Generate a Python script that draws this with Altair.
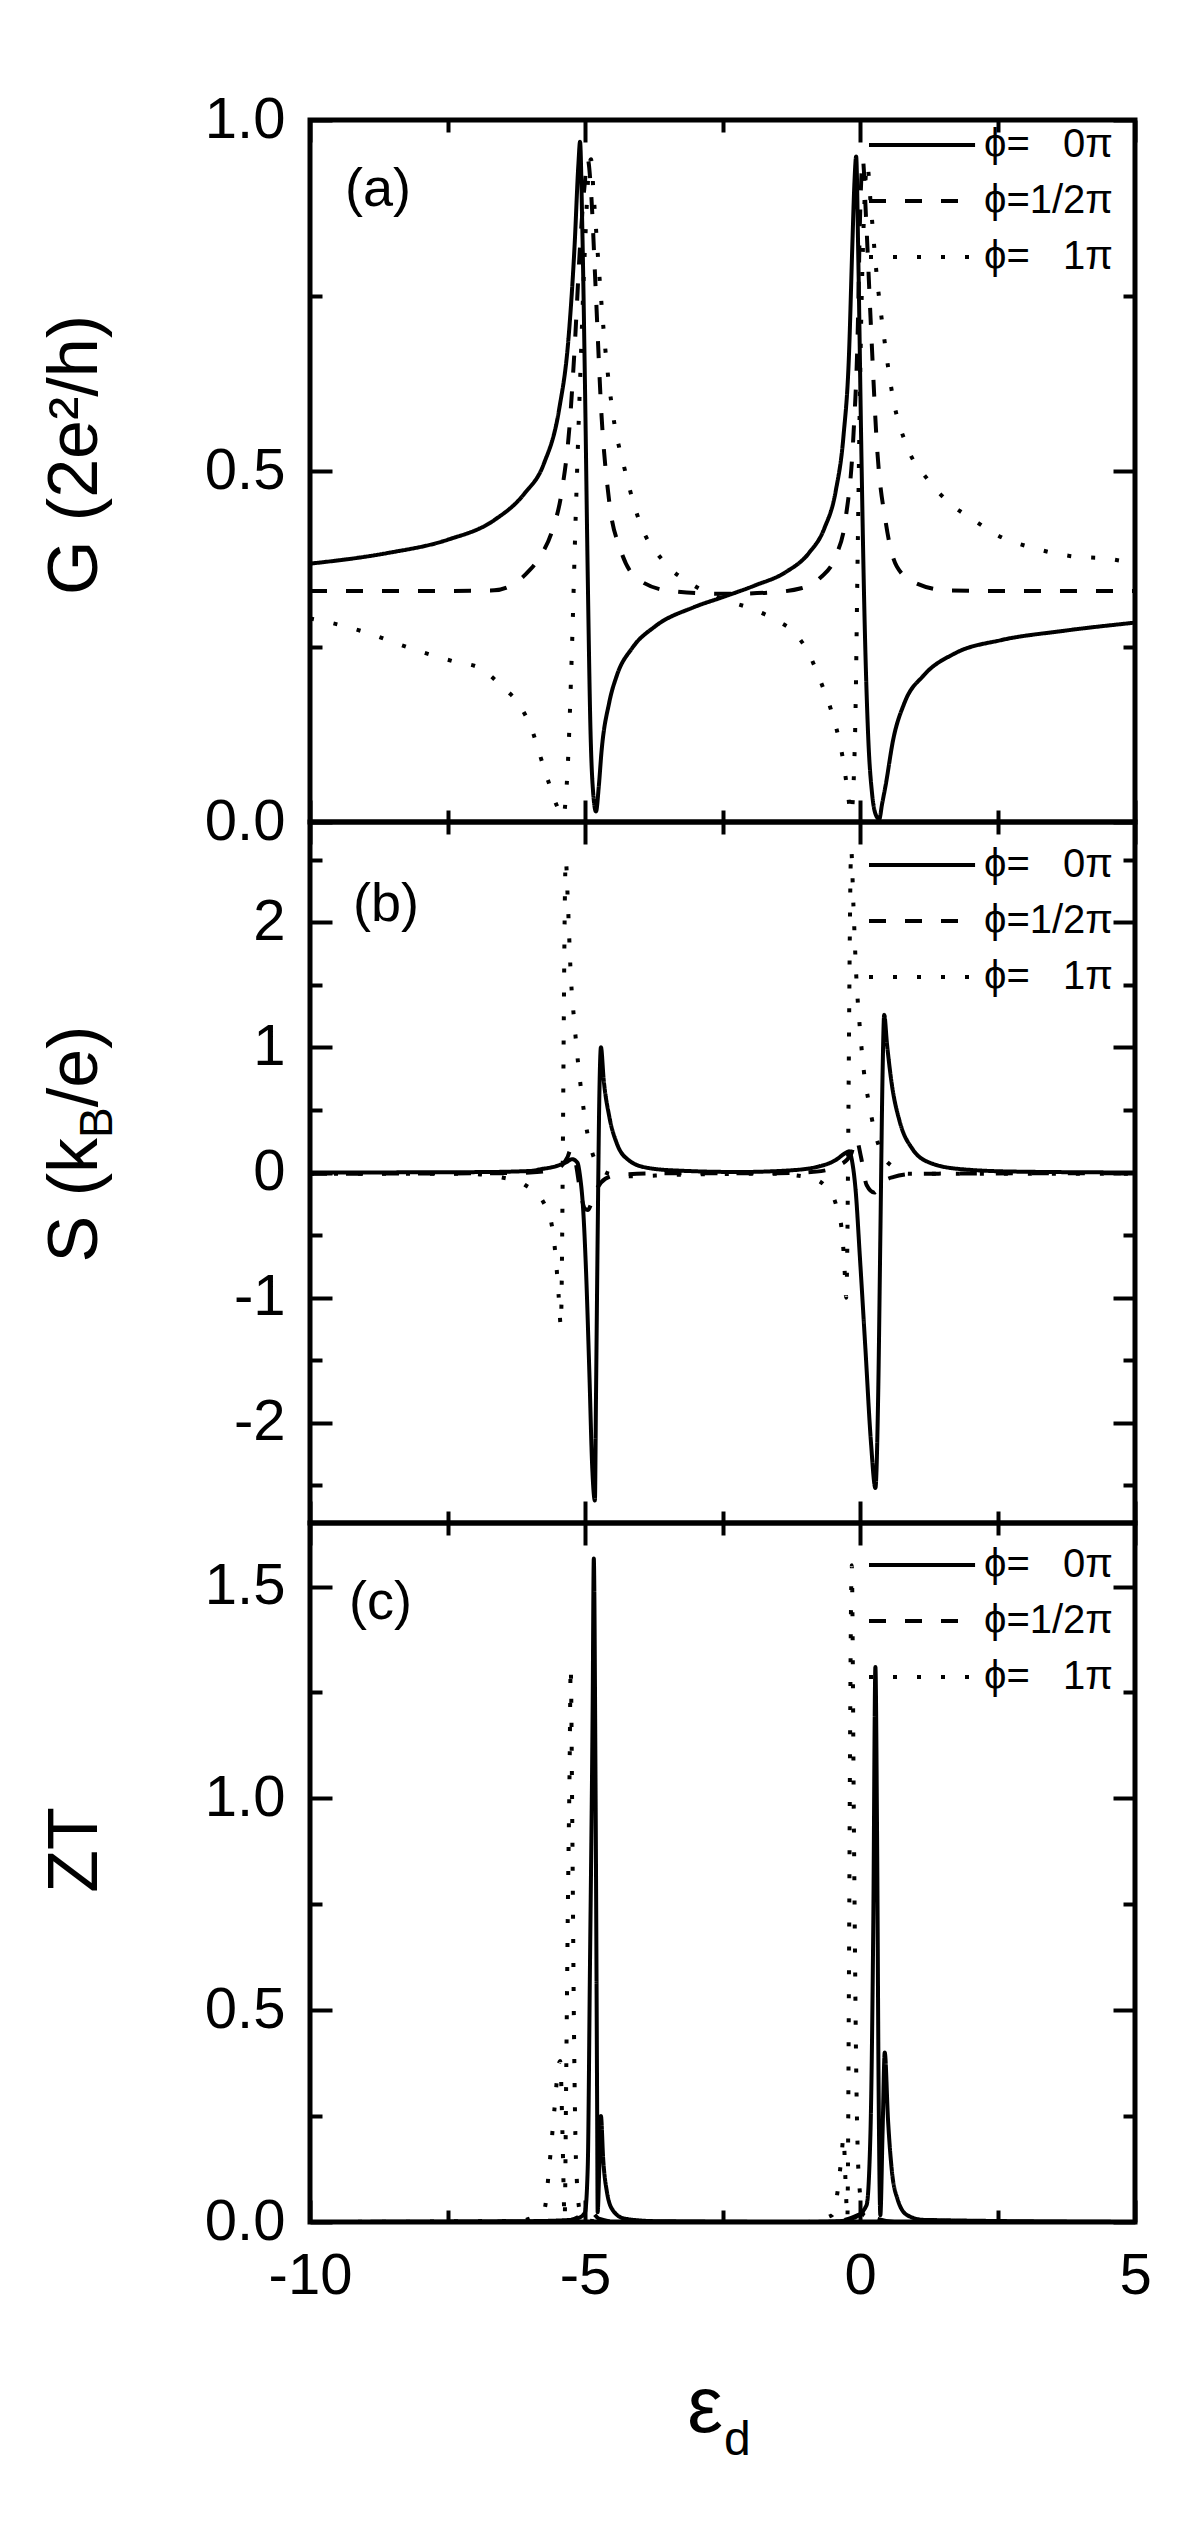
import altair as alt
import pandas as pd

FONT = "Liberation Sans"
PHI = ["ϕ=\u00a0\u00a0\u00a00π", "ϕ=1/2π", "ϕ=\u00a0\u00a0\u00a01π"]
DASHES = [[1, 0], [17, 19], [4, 20]]

# ---------------- panel (a): G (2e^2/h) ----------------
a0_x = [-10, -8.6, -7.5, -6.65, -6.1, -5.75, -5.47, -5.30, -5.19, -5.12, -5.09, -5.05, -5.0, -4.95,
        -4.90, -4.85, -4.80, -4.75, -4.70, -4.56, -4.42, -4.14, -3.72, -3.02, -2.47, -1.91, -1.35,
        -0.93, -0.65, -0.44, -0.30, -0.20, -0.14, -0.10, -0.07, -0.03, 0.02, 0.08, 0.15, 0.22, 0.30,
        0.35, 0.40, 0.47, 0.60, 0.81, 1.16, 1.72, 2.56, 3.67, 5.0]
a0_y = [0.368, 0.383, 0.402, 0.430, 0.468, 0.510, 0.588, 0.689, 0.820, 0.937, 0.969, 0.85, 0.62, 0.35,
        0.13, 0.04, 0.015, 0.05, 0.10, 0.17, 0.209, 0.248, 0.279, 0.306, 0.321, 0.337, 0.356,
        0.383, 0.418, 0.472, 0.55, 0.666, 0.82, 0.913, 0.948, 0.80, 0.55, 0.30, 0.12, 0.04, 0.008,
        0.004, 0.025, 0.054, 0.116, 0.170, 0.209, 0.240, 0.259, 0.272, 0.284]

a1_x = [-10, -8, -6.65, -6.09, -5.81, -5.60, -5.42, -5.28, -5.19, -5.09, -5.0, -4.95, -4.89, -4.81,
        -4.70, -4.56, -4.35, -4.0, -3.44, -2.47, -1.63, -1.07, -0.72, -0.44, -0.26, -0.12, -0.04,
        0.0, 0.05, 0.11, 0.20, 0.31, 0.47, 0.67, 1.02, 1.58, 2.56, 5.0]
a1_y = [0.329, 0.329, 0.330, 0.352, 0.379, 0.414, 0.472, 0.565, 0.673, 0.82, 0.913, 0.944, 0.898, 0.766,
        0.58, 0.457, 0.387, 0.344, 0.329, 0.325, 0.327, 0.333, 0.348, 0.379, 0.433, 0.55, 0.704,
        0.859, 0.944, 0.86, 0.704, 0.534, 0.426, 0.364, 0.34, 0.33, 0.329, 0.329]

a2_x = [-10, -9.58, -9.02, -8.19, -7.35, -6.93, -6.51, -6.16, -5.95, -5.81, -5.65, -5.51, -5.40, -5.31,
        -5.24, -5.17, -5.09, -5.0, -4.93, -4.89, -4.84, -4.75, -4.63, -4.49, -4.28, -4.0, -3.58,
        -3.02, -2.47, -1.91, -1.49, -1.21, -0.93, -0.72, -0.54, -0.40, -0.30, -0.23, -0.16, -0.09,
        -0.04, 0.01, 0.07, 0.13, 0.20, 0.30, 0.44, 0.60, 0.86, 1.23, 1.65, 2.07, 2.56, 3.12, 3.81,
        4.51, 5.0]
a2_y = [0.29, 0.283, 0.271, 0.248, 0.228, 0.22, 0.193, 0.163, 0.128, 0.093, 0.054, 0.023, 0.008, 0.085,
        0.24, 0.433, 0.627, 0.82, 0.929, 0.944, 0.89, 0.79, 0.673, 0.58, 0.503, 0.426, 0.372,
        0.337, 0.317, 0.302, 0.286, 0.271, 0.24, 0.201, 0.163, 0.124, 0.085, 0.046, 0.012, 0.124,
        0.395, 0.666, 0.859, 0.937, 0.875, 0.782, 0.689, 0.604, 0.534, 0.488, 0.453, 0.43, 0.406,
        0.391, 0.379, 0.375, 0.368]

# ---------------- panel (b): S (k_B/e) ----------------
b0_x = [-10, -7, -6, -5.81, -5.53, -5.35, -5.23, -5.14, -5.09, -5.03, -4.98, -4.92, -4.87, -4.82,
        -4.80, -4.77, -4.74, -4.71, -4.66, -4.56, -4.42, -4.21, -3.86, -3.30, -2.19, -1.35, -0.79,
        -0.44, -0.27, -0.20, -0.14, -0.08, 0.0, 0.10, 0.20, 0.28, 0.33, 0.37, 0.41, 0.44, 0.49,
        0.58, 0.72, 0.95, 1.30, 1.86, 2.84, 5.0]
b0_y = [0.0, 0.003, 0.012, 0.026, 0.05, 0.08, 0.106, 0.08, -0.03, -0.32, -0.80, -1.61, -2.34, -2.62,
        -1.79, -0.51, 0.59, 1.0, 0.74, 0.45, 0.23, 0.10, 0.037, 0.015, 0.004, 0.015, 0.044,
        0.10, 0.154, 0.169, 0.08, -0.14, -0.69, -1.42, -2.16, -2.52, -1.79, -0.51, 0.78, 1.26, 1.03,
        0.70, 0.41, 0.19, 0.073, 0.026, 0.007, 0.0]

b1_x = [-10, -6.5, -6.0, -5.53, -5.32, -5.26, -5.17, -5.09, -5.0, -4.95, -4.87, -4.77, -4.63, -4.42,
        -3.72, -1.5, -0.79, -0.37, -0.16, -0.07, 0.02, 0.12, 0.26, 0.40, 0.60, 1.02, 5.0]
b1_y = [-0.01, -0.005, 0.0, 0.026, 0.12, 0.18, 0.08, -0.14, -0.29, -0.30, -0.23, -0.12, -0.05, -0.02,
        -0.007, -0.005, 0.007, 0.06, 0.15, 0.27, 0.12, -0.10, -0.16, -0.08, -0.037, -0.01, -0.005]

b2_x = [-10, -7.21, -6.51, -6.09, -5.74, -5.60, -5.53, -5.48, -5.44, -5.35, -5.31, -5.26, -5.19, -5.12,
        -5.05, -4.98, -4.89, -4.77, -4.56, -4.14, -3.44, -1.63, -0.93, -0.65, -0.44, -0.34, -0.29,
        -0.25, -0.16, -0.12, -0.07, 0.0, 0.07, 0.16, 0.26, 0.40, 0.60, 0.88, 5.0]
b2_y = [-0.01, -0.01, -0.04, -0.10, -0.25, -0.43, -0.69, -0.98, -1.22, 2.50, 2.14, 1.59, 1.18, 0.85,
        0.59, 0.37, 0.19, 0.06, -0.01, -0.03, -0.02, -0.01, -0.04, -0.10, -0.25, -0.43, -0.69,
        -1.0, 2.58, 2.14, 1.59, 1.14, 0.81, 0.56, 0.34, 0.15, 0.044, -0.01, -0.01]

# ---------------- panel (c): ZT ----------------
c0_x = [-10, -6, -5.26, -5.09, -5.0, -4.95, -4.91, -4.86, -4.84, -4.81, -4.78, -4.77, -4.74, -4.71,
        -4.67, -4.60, -4.49, -4.28, -3.72, -1.0, -0.37, -0.09, 0.12, 0.19, 0.24, 0.28, 0.31, 0.34,
        0.37, 0.41, 0.45, 0.51, 0.58, 0.68, 0.86, 1.16, 5.0]
c0_y = [0.0, 0.002, 0.005, 0.011, 0.023, 0.13, 0.60, 1.23, 1.566, 1.07, 0.29, 0.023, 0.13, 0.25,
        0.15, 0.07, 0.027, 0.008, 0.002, 0.0, 0.002, 0.011, 0.04, 0.21, 0.68, 1.31, 0.92, 0.29,
        0.016, 0.21, 0.40, 0.24, 0.12, 0.055, 0.016, 0.005, 0.0]

c1_x = [-10, -5.6, -5.25, -5.0, -4.9, -4.75, -4.4, -0.5, -0.2, 0.0, 0.12, 0.3, 0.7, 5.0]
c1_y = [0.0, 0.0, 0.005, 0.02, 0.025, 0.008, 0.0, 0.0, 0.008, 0.018, 0.022, 0.008, 0.0, 0.0]

c2_x = [-10, -6.2, -5.74, -5.65, -5.56, -5.48, -5.45, -5.41, -5.37, -5.34, -5.31, -5.28, -5.26, -5.23,
        -5.20, -5.16, -5.09, -4.98, -4.5, -1.0, -0.51, -0.41, -0.34, -0.30, -0.26, -0.23, -0.20,
        -0.18, -0.15, -0.11, -0.07, -0.02, 0.07, 0.4, 5.0]
c2_y = [0.0, 0.003, 0.03, 0.13, 0.26, 0.37, 0.38, 0.21, 0.008, 0.37, 0.76, 1.07, 1.31, 0.92,
        0.45, 0.13, 0.023, 0.004, 0.0, 0.0, 0.016, 0.07, 0.15, 0.20, 0.086, 0.008, 0.60,
        1.15, 1.55, 0.92, 0.37, 0.10, 0.016, 0.0, 0.0]

X_MAJOR = [-10, -5, 0, 5]
X_MINOR = [-7.5, -2.5, 2.5]

W = 825
MAJ = 22
MIN = 12
TICKW = 4
LBL = 58


def make_axis(orient, values, size, labels=False, fmt=None, expr=None):
    kw = dict(orient=orient, values=values, tickSize=size, offset=-size, domain=False,
              grid=False, title=None, tickColor="black", tickWidth=TICKW, labels=labels)
    if labels:
        kw.update(labelFont=FONT, labelFontSize=LBL, labelColor="black", labelPadding=25,
                  labelOverlap=False, labelFlush=False)
        if fmt is not None:
            kw["format"] = fmt
        if expr is not None:
            kw["labelExpr"] = expr
    return alt.Axis(**kw)


def texts(items):
    layers = []
    for it in items:
        d = pd.DataFrame({"t": [it["text"]]})
        props = dict(font=FONT, fontSize=it["size"], color="black", align=it.get("align", "left"),
                     baseline=it.get("baseline", "middle"))
        if "angle" in it:
            props["angle"] = it["angle"]
        layers.append(alt.Chart(d).mark_text(**props).encode(
            text="t:N", x=alt.value(it["x"]), y=alt.value(it["y"])))
    return layers


def panel(xs_list, ys_list, ydom, ymaj, ymin, yfmt, yexpr, h, xlabels, legend_y, extra):
    rows = []
    for name, xs, ys in zip(PHI, xs_list, ys_list):
        for a, b in zip(xs, ys):
            rows.append({"x": a, "y": b, "phi": name})
    df = pd.DataFrame(rows)
    xsc = alt.Scale(domain=[-10, 5], nice=False, zero=False)
    ysc = alt.Scale(domain=ydom, nice=False, zero=False)
    base = alt.Chart(df)

    legend = alt.Legend(title=None, orient="none", legendX=539, legendY=legend_y,
                        symbolType="M0,0H10", symbolSize=450, symbolStrokeWidth=4,
                        symbolStrokeColor="black", labelFont=FONT, labelFontSize=40,
                        labelColor="black", labelOffset=95, rowPadding=16, padding=0)
    lines = base.mark_line(color="black", strokeWidth=4, clip=True, interpolate="monotone").encode(
        x=alt.X("x:Q", scale=xsc,
                axis=make_axis("bottom", X_MAJOR, MAJ, labels=xlabels, expr="toString(datum.value)")),
        y=alt.Y("y:Q", scale=ysc, axis=make_axis("left", ymaj, MAJ, True, fmt=yfmt, expr=yexpr)),
        strokeDash=alt.StrokeDash("phi:N", scale=alt.Scale(domain=PHI, range=DASHES), legend=legend),
    )

    def ghost(xax, yax):
        return base.mark_point(opacity=0).encode(
            x=alt.X("x:Q", scale=xsc, axis=xax), y=alt.Y("y:Q", scale=ysc, axis=yax))

    g1 = ghost(make_axis("bottom", X_MINOR, MIN), make_axis("left", ymin, MIN))
    g2 = ghost(make_axis("top", X_MAJOR, MAJ), make_axis("right", ymaj, MAJ))
    g3 = ghost(make_axis("top", X_MINOR, MIN), make_axis("right", ymin, MIN))
    return alt.layer(lines, g1, g2, g3, *texts(extra)).resolve_axis(
        x="independent", y="independent").properties(width=W, height=h)


TF = 70   # axis title font size
TX = -213  # baseline of rotated titles

pa = panel([a0_x, a1_x, a2_x], [a0_y, a1_y, a2_y], [0, 1.0], [0, 0.5, 1.0], [0.25, 0.75],
           ".1f", None, 702, False, 5,
           [dict(text="G (2e²/h)", size=TF, x=TX, y=335, angle=270, align="center",
                 baseline="alphabetic"),
            dict(text="(a)", size=54, x=35, y=70)])

# S (k_B/e) built from pieces for the subscript
sF, sf = TF, 46
w1 = 1.778 * sF
wB = 0.667 * sf
w3 = 1.167 * sF
Ltot = w1 + wB + w3
y0 = 322 + Ltot / 2
pb = panel([b0_x, b1_x, b2_x], [b0_y, b1_y, b2_y], [-2.8, 2.8], [-2, -1, 0, 1, 2],
           [-2.5, -1.5, -0.5, 0.5, 1.5, 2.5], None, "toString(datum.value)", 701, False, 23,
           [dict(text="S (k", size=sF, x=TX, y=y0, angle=270, align="left", baseline="alphabetic"),
            dict(text="B", size=sf, x=TX + 15, y=y0 - w1, angle=270, align="left",
                 baseline="alphabetic"),
            dict(text="/e)", size=sF, x=TX, y=y0 - w1 - wB, angle=270, align="left",
                 baseline="alphabetic"),
            dict(text="(b)", size=54, x=43, y=83)])

pc = panel([c0_x, c1_x, c2_x], [c0_y, c1_y, c2_y], [0, 1.65], [0, 0.5, 1.0, 1.5], [0.25, 0.75, 1.25],
           ".1f", None, 699, True, 22,
           [dict(text="ZT", size=TF, x=TX, y=327, angle=270, align="center", baseline="alphabetic"),
            dict(text="(c)", size=54, x=39, y=80),
            dict(text="ε", size=80, x=413, y=909, align="right", baseline="alphabetic"),
            dict(text="d", size=48, x=414, y=932, align="left", baseline="alphabetic")])

chart = alt.vconcat(pa, pb, pc, spacing=0, bounds="flush").resolve_scale(
    strokeDash="independent").resolve_legend(strokeDash="independent").properties(
    padding={"left": 30, "top": 80, "right": 5, "bottom": 5}).configure_view(
    stroke="black", strokeWidth=5)

chart.save("out.html", embed_options={"renderer": "svg", "actions": False})
